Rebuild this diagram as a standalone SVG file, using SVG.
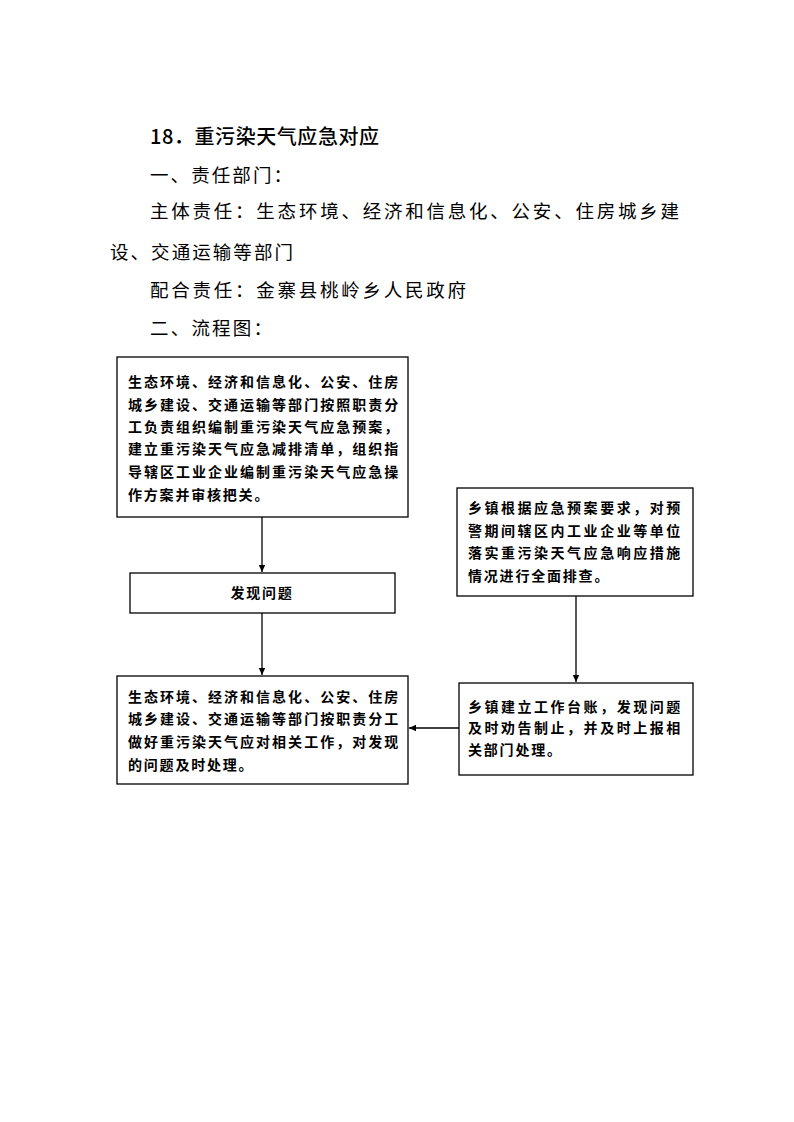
<svg xmlns="http://www.w3.org/2000/svg" width="794" height="1122" viewBox="0 0 794 1122">
<style>
.h{font-family:"Noto Sans CJK SC","Noto Sans CJK JP",sans-serif;font-size:18.5px;fill:#000}
.t{font-family:"Noto Sans CJK SC","Noto Sans CJK JP",sans-serif;font-size:20px;fill:#000;font-weight:500}
.b{font-family:"Liberation Serif","Noto Sans CJK SC",serif;font-size:14px;fill:#000;letter-spacing:1.8px;font-weight:bold}
.box{fill:#fff;stroke:#000;stroke-width:1.3}
.c{stroke:#000;stroke-width:1.3;fill:none}
</style>
<defs>
<marker id="ah" markerWidth="8" markerHeight="8" refX="7" refY="4" orient="auto" markerUnits="userSpaceOnUse">
<path d="M0,0.8 L7,4 L0,7.2 Z" fill="#000"/>
</marker>
</defs>
<rect width="794" height="1122" fill="#fff"/>
<g id="header">
<text class="t" x="150" y="144" textLength="229" lengthAdjust="spacing">18．重污染天气应急对应</text>
<text class="h" x="150" y="182" textLength="142" lengthAdjust="spacing">一、责任部门：</text>
<text class="h" x="150" y="218" textLength="529" lengthAdjust="spacing">主体责任：生态环境、经济和信息化、公安、住房城乡建</text>
<text class="h" x="110" y="259" textLength="183" lengthAdjust="spacing">设、交通运输等部门</text>
<text class="h" x="150" y="297" textLength="316" lengthAdjust="spacing">配合责任：金寨县桃岭乡人民政府</text>
<text class="h" x="150" y="335" textLength="122" lengthAdjust="spacing">二、流程图：</text>
</g>
<g id="n1">
<rect class="box" x="117" y="357" width="291" height="160"/>
<text class="b" x="128" y="387" textLength="272" lengthAdjust="spacing">生态环境、经济和信息化、公安、住房</text>
<text class="b" x="128" y="410" textLength="272" lengthAdjust="spacing">城乡建设、交通运输等部门按照职责分</text>
<text class="b" x="128" y="432" textLength="272" lengthAdjust="spacing">工负责组织编制重污染天气应急预案，</text>
<text class="b" x="128" y="454" textLength="272" lengthAdjust="spacing">建立重污染天气应急减排清单，组织指</text>
<text class="b" x="128" y="477" textLength="272" lengthAdjust="spacing">导辖区工业企业编制重污染天气应急操</text>
<text class="b" x="128" y="500">作方案并审核把关。</text>
</g>
<g id="n2">
<rect class="box" x="130" y="573" width="265" height="40"/>
<text class="b" x="262" y="598" text-anchor="middle">发现问题</text>
</g>
<g id="n3">
<rect class="box" x="117" y="676" width="291" height="108"/>
<text class="b" x="128" y="702" textLength="272" lengthAdjust="spacing">生态环境、经济和信息化、公安、住房</text>
<text class="b" x="128" y="724" textLength="272" lengthAdjust="spacing">城乡建设、交通运输等部门按职责分工</text>
<text class="b" x="128" y="747" textLength="272" lengthAdjust="spacing">做好重污染天气应对相关工作，对发现</text>
<text class="b" x="128" y="770">的问题及时处理。</text>
</g>
<g id="n4">
<rect class="box" x="457" y="488" width="236" height="108"/>
<text class="b" x="468" y="513" textLength="214" lengthAdjust="spacing">乡镇根据应急预案要求，对预</text>
<text class="b" x="468" y="536" textLength="214" lengthAdjust="spacing">警期间辖区内工业企业等单位</text>
<text class="b" x="468" y="558" textLength="214" lengthAdjust="spacing">落实重污染天气应急响应措施</text>
<text class="b" x="468" y="581">情况进行全面排查。</text>
</g>
<g id="n5">
<rect class="box" x="459" y="683" width="234" height="92"/>
<text class="b" x="468" y="712" textLength="214" lengthAdjust="spacing">乡镇建立工作台账，发现问题</text>
<text class="b" x="468" y="733" textLength="214" lengthAdjust="spacing">及时劝告制止，并及时上报相</text>
<text class="b" x="468" y="755">关部门处理。</text>
</g>
<g id="connectors">
<line class="c" x1="262" y1="517" x2="262" y2="572" marker-end="url(#ah)"/>
<line class="c" x1="262" y1="613" x2="262" y2="675" marker-end="url(#ah)"/>
<line class="c" x1="576" y1="596" x2="576" y2="682" marker-end="url(#ah)"/>
<line class="c" x1="459" y1="728" x2="409" y2="728" marker-end="url(#ah)"/>
</g>
</svg>
